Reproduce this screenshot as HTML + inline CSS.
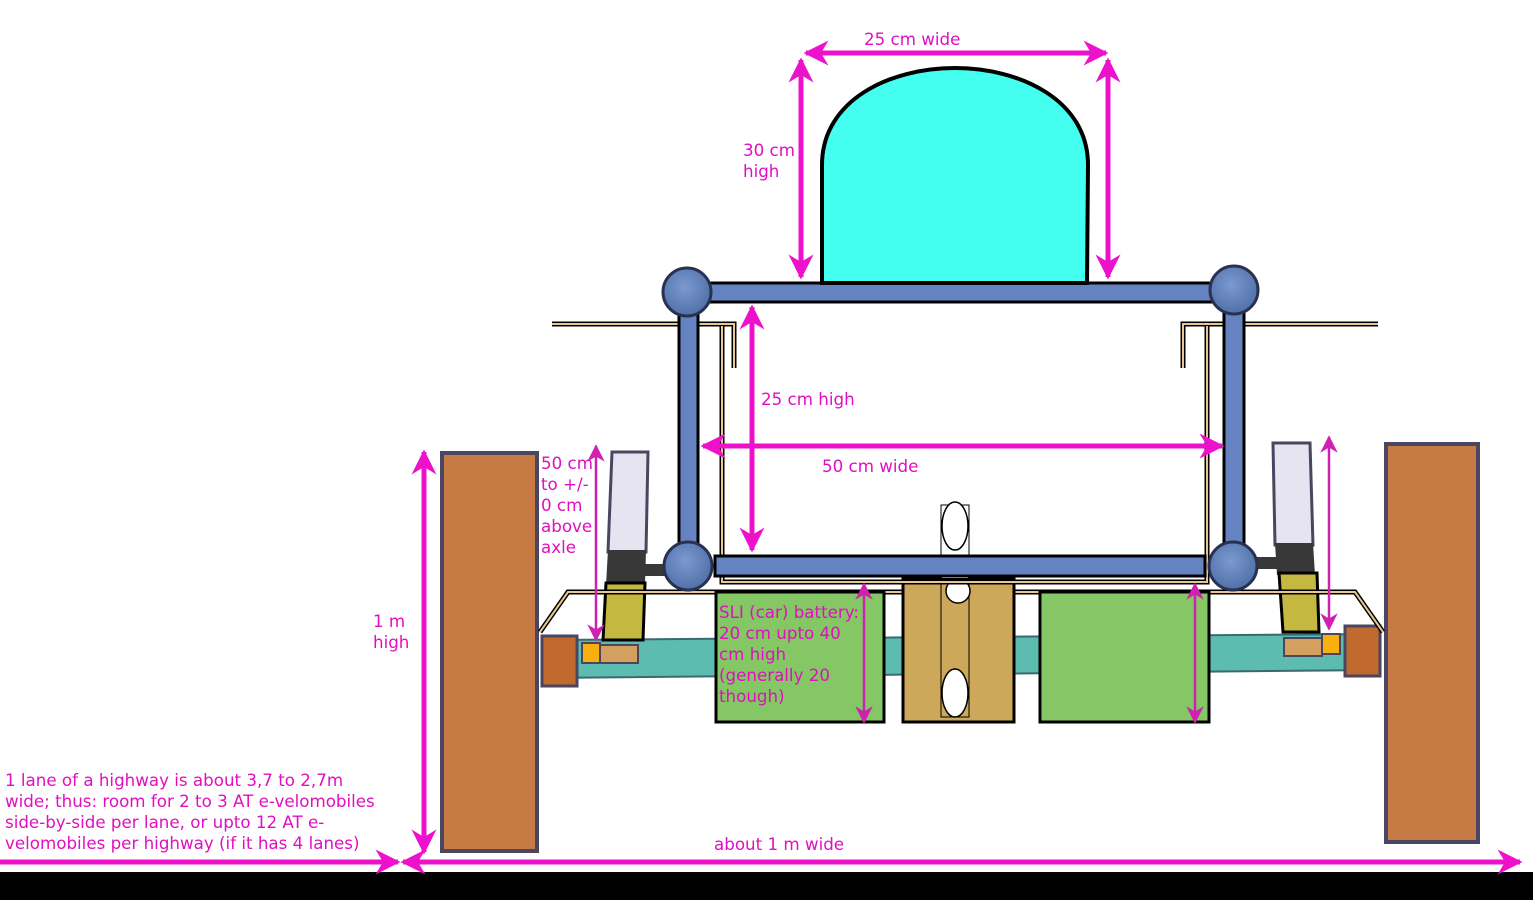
<!DOCTYPE html>
<html><head><meta charset="utf-8"><style>
html,body{margin:0;padding:0;background:#fff;}
svg{display:block;}
text{font-family:"DejaVu Sans","Liberation Sans",sans-serif;font-size:16.7px;fill:#e010c0;}
</style></head><body>
<svg width="1533" height="900" viewBox="0 0 1533 900" xmlns="http://www.w3.org/2000/svg">
<defs>
<marker id="a" viewBox="0 0 10 10" refX="9" refY="5" markerWidth="5" markerHeight="5" orient="auto-start-reverse" markerUnits="strokeWidth">
<path d="M0,0 L10,5 L0,10 L3,5 Z" fill="#ee11cc"/></marker>
<marker id="s" viewBox="0 0 10 10" refX="9" refY="5" markerWidth="7" markerHeight="7" orient="auto-start-reverse" markerUnits="strokeWidth">
<path d="M0,0 L10,5 L0,10 L3,5 Z" fill="#d020b0"/></marker>
<radialGradient id="b" cx="45%" cy="40%" r="60%"><stop offset="0" stop-color="#7a9ad0"/><stop offset="1" stop-color="#5070a8"/></radialGradient>
</defs>
<rect x="0" y="872" width="1533" height="28" fill="#000"/>

<polygon points="545,640 1380,634 1380,670 545,678" fill="#5cbcb0" stroke="#3a6a70" stroke-width="2"/>

<rect x="442" y="453" width="95" height="398" fill="#c87a44" stroke="#4a4660" stroke-width="4"/>
<rect x="1386" y="444" width="92" height="398" fill="#c87a44" stroke="#4a4660" stroke-width="4"/>
<rect x="542" y="636" width="35" height="50" fill="#c06a30" stroke="#4a4660" stroke-width="3"/>
<rect x="1345" y="626" width="35" height="50" fill="#c06a30" stroke="#4a4660" stroke-width="3"/>
<rect x="582" y="643" width="18" height="20" fill="#f8b010" stroke="#4a4660" stroke-width="2"/>
<rect x="1322" y="634" width="18" height="20" fill="#f8b010" stroke="#4a4660" stroke-width="2"/>
<rect x="600" y="645" width="38" height="18" fill="#d4a060" stroke="#4a4660" stroke-width="2"/>
<rect x="1284" y="638" width="38" height="18" fill="#d4a060" stroke="#4a4660" stroke-width="2"/>

<polygon points="612,452 648,452 646,552 608,552" fill="#e6e4f0" stroke="#4a4660" stroke-width="3"/>
<polygon points="608,550 646,550 645,585 606,585" fill="#383838"/>
<rect x="640" y="564" width="30" height="12" fill="#383838"/>
<polygon points="606,583 645,583 643,640 603,640" fill="#c4b840" stroke="#000" stroke-width="3"/>
<polygon points="1273,443 1310,443 1313,545 1275,545" fill="#e6e4f0" stroke="#4a4660" stroke-width="3"/>
<polygon points="1275,543 1313,543 1315,575 1277,575" fill="#383838"/>
<rect x="1250" y="557" width="30" height="12" fill="#383838"/>
<polygon points="1279,573 1317,573 1319,632 1283,632" fill="#c4b840" stroke="#000" stroke-width="3"/>

<polyline points="540,632 568,592 1355,592 1383,632" fill="none" stroke="#000" stroke-width="5"/>
<polyline points="540,632 568,592 1355,592 1383,632" fill="none" stroke="#e8c890" stroke-width="2"/>

<rect x="716" y="592" width="168" height="130" fill="#85c665" stroke="#000" stroke-width="3"/>
<rect x="1040" y="592" width="169" height="130" fill="#85c665" stroke="#000" stroke-width="3"/>
<rect x="903" y="578" width="111" height="144" fill="#cda85a" stroke="#000" stroke-width="3"/>
<rect x="941" y="505" width="28" height="212" fill="none" stroke="#000" stroke-width="1"/>
<rect x="942" y="506" width="26" height="72" fill="#fff"/>
<ellipse cx="955" cy="526" rx="13" ry="24" fill="#fff" stroke="#000" stroke-width="1.5"/>
<ellipse cx="955" cy="693" rx="13" ry="24" fill="#fff" stroke="#000" stroke-width="1.5"/>
<circle cx="958" cy="591" r="12" fill="#fff" stroke="#000" stroke-width="1.5"/>

<path d="M552,324 L734,324 L734,368" fill="none" stroke="#000" stroke-width="5"/>
<path d="M552,324 L734,324 L734,368" fill="none" stroke="#e8c890" stroke-width="2"/>
<path d="M1378,324 L1183,324 L1183,368" fill="none" stroke="#000" stroke-width="5"/>
<path d="M1378,324 L1183,324 L1183,368" fill="none" stroke="#e8c890" stroke-width="2"/>
<path d="M722,326 L722,582 L1207,582 L1207,326" fill="none" stroke="#000" stroke-width="5"/>
<path d="M722,326 L722,582 L1207,582 L1207,326" fill="none" stroke="#e8c890" stroke-width="2"/>

<rect x="679" y="300" width="19" height="250" fill="#6583c0" stroke="#000" stroke-width="3"/>
<rect x="1224" y="300" width="20" height="250" fill="#6583c0" stroke="#000" stroke-width="3"/>
<rect x="690" y="283" width="523" height="19" fill="#6583c0" stroke="#000" stroke-width="3"/>
<rect x="715" y="556" width="490" height="20" fill="#6583c0" stroke="#000" stroke-width="3"/>

<path d="M822,283 L822,165 C822,100 890,68 955,68 C1020,68 1088,100 1088,165 L1087,283 Z" fill="#44fff0" stroke="#000" stroke-width="4"/>

<circle cx="687" cy="292" r="24" fill="url(#b)" stroke="#2a3050" stroke-width="3"/>
<circle cx="1234" cy="290" r="24" fill="url(#b)" stroke="#2a3050" stroke-width="3"/>
<circle cx="688" cy="566" r="24" fill="url(#b)" stroke="#2a3050" stroke-width="3"/>
<circle cx="1233" cy="566" r="24" fill="url(#b)" stroke="#2a3050" stroke-width="3"/>

<g stroke="#ee11cc" stroke-width="5" fill="none">
<line x1="806" y1="53" x2="1106" y2="53" marker-start="url(#a)" marker-end="url(#a)"/>
<line x1="801" y1="60" x2="801" y2="277" marker-start="url(#a)" marker-end="url(#a)"/>
<line x1="1108" y1="60" x2="1108" y2="277" marker-start="url(#a)" marker-end="url(#a)"/>
<line x1="752" y1="307" x2="752" y2="550" marker-start="url(#a)" marker-end="url(#a)"/>
<line x1="703" y1="446" x2="1222" y2="446" marker-start="url(#a)" marker-end="url(#a)"/>
<line x1="424" y1="452" x2="424" y2="852" marker-start="url(#a)" marker-end="url(#a)"/>
<line x1="0" y1="862" x2="398" y2="862" marker-end="url(#a)"/>
<line x1="403" y1="862" x2="1520" y2="862" marker-start="url(#a)" marker-end="url(#a)"/>
</g>
<g stroke="#d020b0" stroke-width="2.5" fill="none">
<line x1="596" y1="446" x2="596" y2="640" marker-start="url(#s)" marker-end="url(#s)"/>
<line x1="1329" y1="437" x2="1329" y2="629" marker-start="url(#s)" marker-end="url(#s)"/>
<line x1="864" y1="584" x2="864" y2="722" marker-start="url(#s)" marker-end="url(#s)"/>
<line x1="1195" y1="584" x2="1195" y2="722" marker-start="url(#s)" marker-end="url(#s)"/>
</g>

<text x="864" y="45">25 cm wide</text>
<text x="743" y="156">30 cm</text>
<text x="743" y="177">high</text>
<text x="761" y="405">25 cm high</text>
<text x="822" y="472">50 cm wide</text>
<text x="541" y="469">50 cm</text>
<text x="541" y="490">to +/-</text>
<text x="541" y="511">0 cm</text>
<text x="541" y="532">above</text>
<text x="541" y="553">axle</text>
<text x="373" y="627">1 m</text>
<text x="373" y="648">high</text>
<text x="719" y="618">SLI (car) battery:</text>
<text x="719" y="639">20 cm upto 40</text>
<text x="719" y="660">cm high</text>
<text x="719" y="681">(generally 20</text>
<text x="719" y="702">though)</text>
<text x="5" y="786">1 lane of a highway is about 3,7 to 2,7m</text>
<text x="5" y="807">wide; thus: room for 2 to 3 AT e-velomobiles</text>
<text x="5" y="828">side-by-side per lane, or upto 12 AT e-</text>
<text x="5" y="849">velomobiles per highway (if it has 4 lanes)</text>
<text x="714" y="850">about 1 m wide</text>
</svg>
</body></html>
